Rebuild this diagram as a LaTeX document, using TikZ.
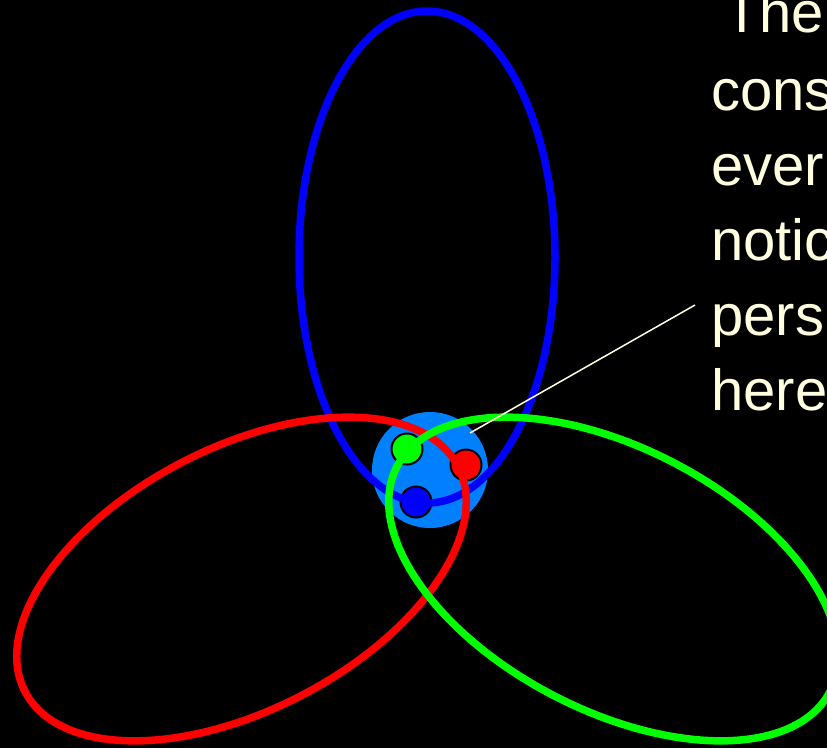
\documentclass[tikz,border=0pt]{standalone}
\usepackage{fontspec}
\setmainfont{Liberation Sans}
\definecolor{ballblue}{RGB}{0,128,255}
\definecolor{cream}{RGB}{255,255,224}
\begin{document}
\begin{tikzpicture}[x=1pt,y=-1pt,
  orbit/.style={line width=7.5pt},
  dot/.style={circle,draw=black,line width=2pt,minimum size=31pt,inner sep=0pt},
  label/.style={anchor=base west,text=cream,inner sep=0pt,font=\fontsize{58}{75}\selectfont}]
\fill[black] (0,0) rectangle (827,748);
\useasboundingbox (0,0) rectangle (827,748);
\clip (0,0) rectangle (827,748);
% ball
\node[circle,fill=ballblue,minimum size=116pt,inner sep=0pt] (ball) at (430,470) {};
% particles
\node[dot,fill=green] (gdot) at (407,449) {};
\node[dot,fill=red] (rdot) at (466,465) {};
\node[dot,fill=blue] (bdot) at (416,502) {};
% orbits
\draw[orbit,blue] (427,257) ellipse [x radius=128,y radius=246];
\draw[orbit,red,rotate around={27.5:(241.5,579)}] (241.5,579) ellipse [x radius=244,y radius=131];
\draw[orbit,green,rotate around={-27.5:(613.5,579)}] (613.5,579) ellipse [x radius=244,y radius=131];
% text
\node[label] (t1) at (724,32) {The};
\node[label] (t2) at (711,110) {cons};
\node[label] (t3) at (711,185) {ever};
\node[label] (t4) at (711,260) {notic};
\node[label] (t5) at (711,335) {pers};
\node[label] (t6) at (711,410) {here};
\coordinate (lineend) at (695,305);
\coordinate (linestart) at (470,433);
\draw[cream,line width=1.5pt] (linestart) -- (lineend);
\end{tikzpicture}
\end{document}
